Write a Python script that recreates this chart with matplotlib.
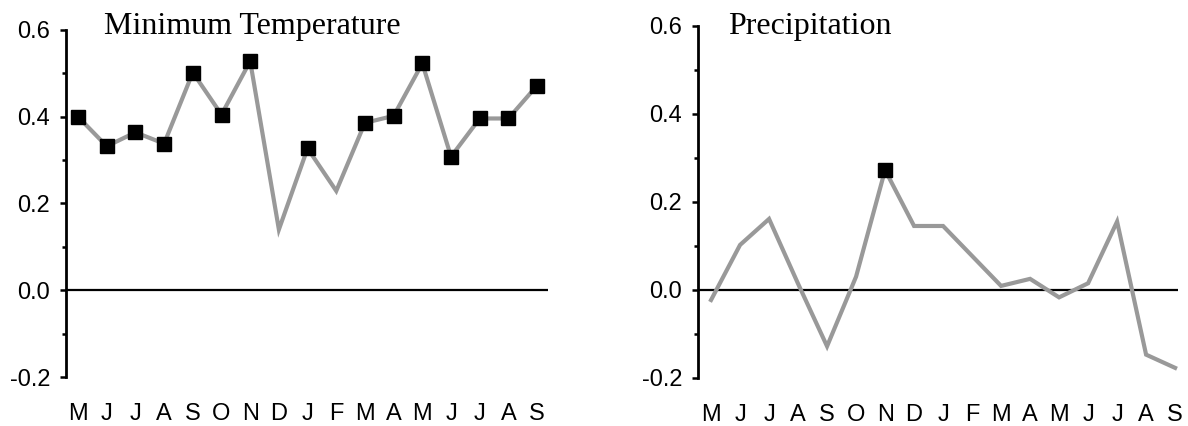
import numpy as np
import matplotlib
matplotlib.use("Agg")
import matplotlib.pyplot as plt
from matplotlib.ticker import MultipleLocator

# Підписи місяців
months = ["M", "J", "J", "A", "S", "O", "N", "D", "J", "F", "M", "A", "M", "J", "J", "A", "S"]

# Мінімальна температура (кореляції)
tmin = [0.40, 0.332, 0.364, 0.338, 0.502, 0.405, 0.528, 0.14, 0.327,
        0.229, 0.386, 0.402, 0.523, 0.308, 0.396, 0.396, 0.472]
tmin_sig = [True, True, True, True, True, True, True, False, True,
            False, True, True, True, True, True, True, True]

# Опади
prcp = [-0.023, 0.102, 0.161, 0.014, -0.128, 0.030, 0.272, 0.145, 0.145,
        0.077, 0.009, 0.025, -0.017, 0.015, 0.155, -0.147, -0.177]
prcp_sig = [False, False, False, False, False, False, True, False, False,
            False, False, False, False, False, False, False, False]

plt.rcParams["axes.unicode_minus"] = False
plt.rcParams["font.family"] = ["Liberation Sans", "DejaVu Sans"]

W, H = 1188, 426
fig = plt.figure(figsize=(W / 100, H / 100), dpi=100)

# Положення панелей у пікселях: (ліво, верх, право, низ)
boxes = [(66, 30, 548, 377), (698, 25.5, 1178, 378)]
xlims = [(-0.42, 16.38), (-0.45, 16.1)]
titles = [("Minimum Temperature", 104), ("Precipitation", 728)]
series = [(tmin, tmin_sig), (prcp, prcp_sig)]

for (l, t, r, b), xl, (title, tx), (vals, sig) in zip(boxes, xlims, titles, series):
    ax = fig.add_axes([l / W, (H - b) / H, (r - l) / W, (b - t) / H])
    x = np.arange(len(vals))
    vals = np.array(vals)
    sig = np.array(sig)
    ax.axhline(0, color="black", lw=1.6, zorder=1)
    ax.plot(x, vals, color="#999999", lw=3.0, zorder=2, solid_joinstyle="miter")
    ax.plot(x[sig], vals[sig], "s", color="black", ms=10.5, zorder=3, clip_on=False)
    ax.set_xlim(*xl)
    ax.set_ylim(-0.2, 0.6)
    for s in ["top", "right", "bottom"]:
        ax.spines[s].set_visible(False)
    ax.spines["left"].set_linewidth(2.0)
    ax.yaxis.set_major_locator(MultipleLocator(0.2))
    ax.yaxis.set_minor_locator(MultipleLocator(0.1))
    ax.yaxis.set_major_formatter(plt.FuncFormatter(lambda v, p: f"{v:.1f}"))
    ax.tick_params(axis="y", which="major", length=4.5, width=1.8, labelsize=17, pad=7)
    ax.tick_params(axis="y", which="minor", length=3.0, width=1.8)
    ax.set_xticks(x)
    ax.set_xticklabels(months)
    ax.tick_params(axis="x", length=0, labelsize=17, pad=19)
    fig.text(tx / W, (H - 34) / H, title, family="Liberation Serif", fontsize=23,
             ha="left", va="baseline")

fig.savefig("out.png", dpi=100)
